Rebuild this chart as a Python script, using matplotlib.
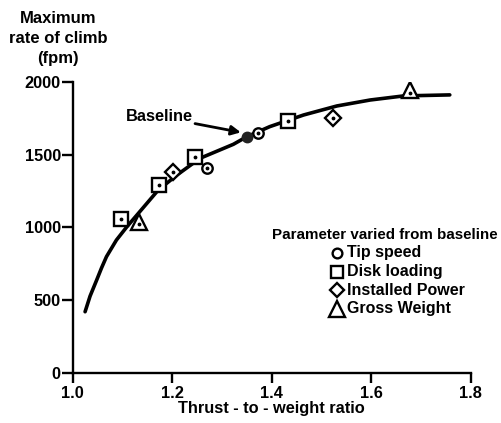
import matplotlib
matplotlib.use("Agg")
import matplotlib.pyplot as plt

# Fitted trend: maximum rate of climb vs thrust-to-weight ratio
curve_tw = [1.025, 1.035, 1.048, 1.058, 1.068, 1.088, 1.109, 1.132, 1.155, 1.172,
            1.21, 1.256, 1.323, 1.350, 1.396, 1.464, 1.531, 1.598, 1.665, 1.758]
curve_roc = [421, 528, 636, 721, 799, 913, 1004, 1096, 1188, 1256,
             1360, 1474, 1570, 1622, 1691, 1771, 1833, 1874, 1902, 1909]

# Parameter variations about the baseline design
tip_tw = [1.271, 1.373]
tip_roc = [1405, 1650]
disk_tw = [1.098, 1.173, 1.246, 1.433]
disk_roc = [1055, 1291, 1485, 1730]
power_tw = [1.202, 1.523]
power_roc = [1382, 1749]
gross_tw = [1.134, 1.679]
gross_roc = [1040, 1943]

baseline_tw = 1.350
baseline_roc = 1622

x_ticks = [1.0, 1.2, 1.4, 1.6, 1.8]
x_ticklabels = ["1.0", "1.2", "1.4", "1.6", "1.8"]
y_ticks = [0, 500, 1000, 1500, 2000]

legend_labels = ["Tip speed", "Disk loading", "Installed Power", "Gross Weight"]

plt.rcParams["font.family"] = ["Liberation Sans", "DejaVu Sans"]
plt.rcParams["font.weight"] = "bold"

fig = plt.figure(figsize=(5.01, 4.23), dpi=100)
ax = fig.add_axes([0.145, 0.118, 0.7945, 0.689])

ax.plot(curve_tw, curve_roc, color="black", lw=2.6, solid_capstyle="round",
        solid_joinstyle="round", zorder=2)

mk = dict(linestyle="none", markerfacecolor="white", markeredgecolor="black",
          markeredgewidth=1.7, zorder=3)
ax.plot(tip_tw, tip_roc, marker="o", markersize=7.5, **mk)
ax.plot(disk_tw, disk_roc, marker="s", markersize=9.5, **mk)
ax.plot(power_tw, power_roc, marker="D", markersize=8.3, **mk)
ax.plot(gross_tw, gross_roc, marker="^", markersize=12, **mk)

# small centre dots inside the open symbols
all_tw = tip_tw + disk_tw + power_tw
all_roc = tip_roc + disk_roc + power_roc
ax.plot(all_tw, all_roc, "k.", markersize=3.5, zorder=4)
ax.plot(gross_tw, [v - 20 for v in gross_roc], "k.", markersize=3.5, zorder=4)

ax.plot([baseline_tw], [baseline_roc], marker="o", markersize=7.5, color="#222222",
        linestyle="none", zorder=4)
ax.text(1.175, 1758, "Baseline", fontsize=11.8, fontweight="bold",
        ha="center", va="center")
ax.annotate("", xy=(1.338, 1652), xytext=(1.246, 1712),
            arrowprops=dict(arrowstyle="-|>", color="black", lw=2.0,
                            shrinkA=0, shrinkB=0, mutation_scale=14))

ax.set_xlim(1.0, 1.8)
ax.set_ylim(0, 2000)
ax.set_xticks(x_ticks)
ax.set_xticklabels(x_ticklabels)
ax.set_yticks(y_ticks)
ax.spines["top"].set_visible(False)
ax.spines["right"].set_visible(False)
for s in ("left", "bottom"):
    ax.spines[s].set_linewidth(1.7)
ax.tick_params(axis="y", direction="out", length=8, width=1.7, labelsize=11.8, pad=0.5)
ax.tick_params(axis="x", direction="out", length=7, width=1.7, labelsize=11.8, pad=2)
for lbl in ax.get_xticklabels() + ax.get_yticklabels():
    lbl.set_fontweight("bold")

ax.set_xlabel("Thrust - to - weight ratio", fontsize=11.8, fontweight="bold", labelpad=0)
fig.text(0.116, 0.974, "Maximum\nrate of climb\n(fpm)", ha="center", va="top",
         fontsize=12, fontweight="bold", linespacing=1.42)

# Legend block
fig.text(0.543, 0.444, "Parameter varied from baseline", ha="left", va="center",
         fontsize=10.9, fontweight="bold")
leg_markers = ["o", "s", "D", "^"]
leg_sizes = [7, 9, 7.5, 11]
leg_y = [0.402, 0.357, 0.314, 0.270]
for m, sz, yy, txt in zip(leg_markers, leg_sizes, leg_y, legend_labels):
    fig.lines.append(plt.Line2D([0.673], [yy], transform=fig.transFigure, marker=m,
                                markersize=sz, markerfacecolor="white",
                                markeredgecolor="black", markeredgewidth=1.7,
                                linestyle="none"))
    fig.text(0.692, yy, txt, ha="left", va="center", fontsize=11.5, fontweight="bold")

fig.savefig("out.png", dpi=100)
